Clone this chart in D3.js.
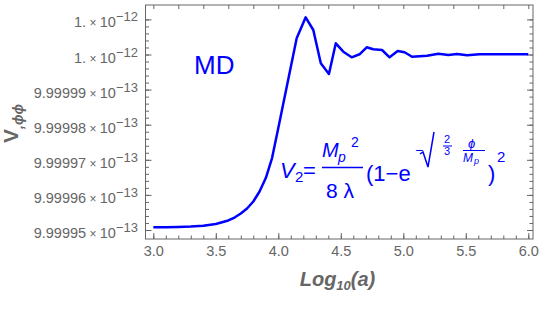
<!DOCTYPE html>
<html>
<head>
<meta charset="utf-8">
<script src="https://cdn.jsdelivr.net/npm/d3@7"></script>
<style>
  body { margin: 0; background: #fff; }
  svg { display: block; }
  text { font-family: "Liberation Sans", Arial, sans-serif; }
</style>
</head>
<body>
<script>
// data: log10(a) and V,phi phi
var logA = [3.0, 3.1, 3.2, 3.3, 3.4, 3.5, 3.55, 3.6, 3.65, 3.7, 3.75, 3.8, 3.85, 3.9, 3.95, 4.0,
    4.147, 4.219, 4.28, 4.34, 4.405, 4.46, 4.52, 4.587, 4.65, 4.707, 4.76, 4.83, 4.89, 4.955,
    5.01, 5.07, 5.19, 5.28, 5.36, 5.43, 5.51, 5.61, 5.77, 6.0];
var vPhiPhi = [9.99995077e-13, 9.99995080e-13, 9.99995085e-13, 9.99995097e-13, 9.99995120e-13,
    9.99995171e-13, 9.99995219e-13, 9.99995271e-13, 9.99995356e-13, 9.99995470e-13,
    9.99995613e-13, 9.99995812e-13, 9.99996097e-13, 9.99996481e-13, 9.99997051e-13,
    9.99997906e-13, 1.000000462e-12, 1.000001060e-12, 1.000000698e-12, 9.99999749e-13,
    9.99999444e-13, 1.000000319e-12, 1.000000080e-12, 9.99999920e-13, 1.000000006e-12,
    1.000000205e-12, 1.000000148e-12, 1.000000128e-12, 9.99999920e-13, 1.000000100e-12,
    1.000000063e-12, 9.99999937e-13, 9.99999966e-13, 1.000000023e-12, 9.99999986e-13,
    1.000000014e-12, 9.99999977e-13, 1.000000006e-12, 1.000000006e-12, 1.000000006e-12];

var xTicks = [3.0, 3.5, 4.0, 4.5, 5.0, 5.5, 6.0];
var yTicks = [9.99995e-13, 9.99996e-13, 9.99997e-13, 9.99998e-13, 9.99999e-13, 1.0e-12, 1.000001e-12];
var yTickMant = ["9.99995", "9.99996", "9.99997", "9.99998", "9.99999", "1.", "1."];
var yTickExp = ["\u221213", "\u221213", "\u221213", "\u221213", "\u221213", "\u221212", "\u221212"];

var width = 540, height = 324;
var frame = {left: 145.5, right: 533, top: 5, bottom: 239};
var gray = "#666";
var blue = "#0000ff";

var svg = d3.select("body").append("svg")
    .attr("width", width)
    .attr("height", height);

var x = d3.scaleLinear().domain([3, 6]).range([153.3, 528.3]);
var y = d3.scaleLinear().domain([9.99995e-13, 1.000001e-12]).range([230, 19.4]);

// minor ticks
var xMinor = d3.range(3, 6.001, 0.1);
var xTop = d3.range(3, 6.001, 0.2);
var yStep = 1e-18;
var yMinor = d3.range(0, 31).map(function(i) { return 9.99995e-13 + i * yStep / 5; });

function tickGroup(axis, tx, ty) {
    var g = svg.append("g")
        .attr("transform", "translate(" + tx + "," + ty + ")")
        .call(axis);
    g.select(".domain").remove();
    g.selectAll("line").attr("stroke", gray);
    return g;
}

tickGroup(d3.axisBottom(x).tickValues(xMinor).tickSize(-3.5).tickFormat(""), 0, frame.bottom);
var bottom = tickGroup(d3.axisBottom(x).tickValues(xTicks).tickSize(-6).tickPadding(7)
    .tickFormat(d3.format(".1f")), 0, frame.bottom);
bottom.selectAll("text")
    .attr("fill", gray)
    .style("font-size", "14.5px")
    .style("font-family", "'Liberation Sans', Arial, sans-serif");

tickGroup(d3.axisTop(x).tickValues(xTop).tickSize(-4).tickFormat(""), 0, frame.top);

tickGroup(d3.axisLeft(y).tickValues(yMinor).tickSize(-3.5).tickFormat(""), frame.left, 0);
tickGroup(d3.axisLeft(y).tickValues(yTicks).tickSize(-6).tickFormat(""), frame.left, 0);
tickGroup(d3.axisRight(y).tickValues(yMinor).tickSize(-3.5).tickFormat(""), frame.right, 0);
tickGroup(d3.axisRight(y).tickValues(yTicks).tickSize(-6).tickFormat(""), frame.right, 0);

// frame
svg.append("rect")
    .attr("x", frame.left)
    .attr("y", frame.top)
    .attr("width", frame.right - frame.left)
    .attr("height", frame.bottom - frame.top)
    .attr("fill", "none")
    .attr("stroke", gray)
    .attr("stroke-width", 1);

// y tick labels like "9.99995 x 10^-13"
var yLab = svg.append("g").selectAll("text")
    .data(yTicks)
    .enter().append("text")
    .attr("x", 138)
    .attr("y", function(d) { return y(d) + 8; })
    .attr("text-anchor", "end")
    .attr("fill", gray)
    .style("font-size", "14.5px");
yLab.append("tspan").text(function(d, i) { return yTickMant[i]; });
yLab.append("tspan").style("font-size", "12px").text(" \u00d7 ");
yLab.append("tspan").text("10");
yLab.append("tspan").attr("dy", -6).style("font-size", "13px").text(function(d, i) { return yTickExp[i]; });

// the curve
var line = d3.line()
    .x(function(d, i) { return x(logA[i]); })
    .y(function(d) { return y(d); });

svg.append("path")
    .datum(vPhiPhi)
    .attr("d", line)
    .attr("fill", "none")
    .attr("stroke", blue)
    .attr("stroke-width", 2.5)
    .attr("stroke-linejoin", "round");

// axis titles
var xt = svg.append("text")
    .attr("x", 337.5)
    .attr("y", 286)
    .attr("text-anchor", "middle")
    .attr("fill", gray)
    .style("font-size", "20px")
    .style("font-weight", "bold")
    .style("font-style", "italic");
xt.append("tspan").text("Log");
xt.append("tspan").attr("dy", 4).style("font-size", "13px").text("10");
xt.append("tspan").attr("dy", -4).text("(a)");

var yt = svg.append("text")
    .attr("transform", "translate(18,143) rotate(-90)")
    .attr("fill", gray)
    .style("font-size", "21px")
    .style("font-weight", "bold");
yt.append("tspan").text("V");
yt.append("tspan").attr("dy", 5).style("font-size", "14px").style("font-style", "italic").text(",\u03d5\u03d5");

// annotations
svg.append("text")
    .attr("x", 194)
    .attr("y", 74)
    .attr("fill", blue)
    .style("font-size", "26px")
    .text("MD");

var f = svg.append("g").attr("fill", blue);
function put(t, px, py, size, italic) {
    return f.append("text")
        .attr("x", px).attr("y", py)
        .style("font-size", size + "px")
        .style("font-style", italic ? "italic" : "normal")
        .text(t);
}
put("V", 280, 178, 22, true);
put("2", 295, 182, 15, false);
put("=", 303, 178, 22, false);
put("M", 322, 157, 20, true);
put("p", 338, 162, 14, true);
put("2", 351, 147, 14, false);
f.append("line").attr("x1", 322).attr("x2", 363).attr("y1", 167.5).attr("y2", 167.5)
    .attr("stroke", blue).attr("stroke-width", 1.5);
put("8 \u03bb", 326, 198, 21, false);
put("(1\u2212e", 366, 181, 22, false);
put("\u2212", 415, 155, 14, false);
f.append("path")
    .attr("d", "M420,154 L423,152 L428,167 L434,132")
    .attr("fill", "none").attr("stroke", blue).attr("stroke-width", 1.5);
put("2", 444, 143, 11, false);
f.append("line").attr("x1", 443).attr("x2", 452).attr("y1", 146).attr("y2", 146)
    .attr("stroke", blue).attr("stroke-width", 1);
put("3", 444, 155, 11, false);
put("\u03d5", 468, 148, 13, true);
f.append("line").attr("x1", 463).attr("x2", 485).attr("y1", 150.5).attr("y2", 150.5)
    .attr("stroke", blue).attr("stroke-width", 1);
put("M", 463, 162, 12, true);
put("p", 474, 164, 9, true);
put(")", 488, 181, 22, false);
put("2", 497, 162, 15, false);
</script>
</body>
</html>
